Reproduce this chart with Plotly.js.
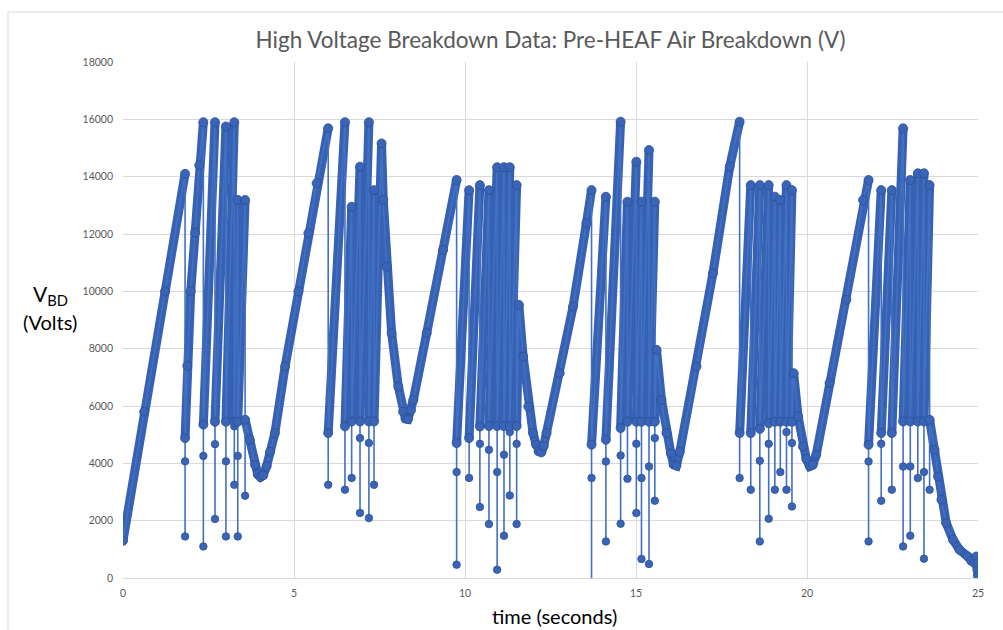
<!DOCTYPE html>
<html>
<head>
<meta charset="utf-8">
<script src="https://cdn.plot.ly/plotly-3.0.1.min.js"></script>
<style>
html,body{margin:0;padding:0;background:#ffffff;}
#chart{width:1003px;height:630px;}
</style>
</head>
<body>
<div id="chart"></div>
<script>
// Key samples (time in s, breakdown voltage in V).
// dipFlag = 1 marks the short-lived breakdown dip samples (thin vertical drops).
const timeS = [
  0, 0.62, 1.23, 1.815,
  1.815, 1.815, 1.815, 1.88, 1.98, 2.11, 2.23, 2.35,
  2.35, 2.35, 2.35, 2.69,
  2.69, 2.69, 2.69, 3.01,
  3.01, 3.01, 3.01, 3.255,
  3.255, 3.255, 3.255, 3.355,
  3.355, 3.355, 3.355, 3.57,
  3.57, 3.57, 3.71, 3.86, 3.94, 4.02, 4.1, 4.2, 4.3, 4.44, 4.74, 5.13, 5.42, 5.66, 6.0,
  6.0, 6.0, 6.49,
  6.49, 6.49, 6.686,
  6.686, 6.686, 6.93,
  6.93, 6.93, 6.93, 7.19,
  7.19, 7.19, 7.19, 7.34,
  7.34, 7.34, 7.56,
  7.61, 7.71, 7.855, 8.05, 8.19, 8.26, 8.33, 8.42, 8.49, 8.88, 9.36, 9.755,
  9.755, 9.755, 9.755, 10.12,
  10.12, 10.12, 10.435,
  10.435, 10.435, 10.435, 10.70,
  10.70, 10.70, 10.70, 10.94,
  10.94, 10.94, 10.94, 11.14,
  11.14, 11.14, 11.14, 11.31,
  11.31, 11.31, 11.31, 11.51,
  11.51, 11.51, 11.51, 11.575,
  11.70, 11.85, 11.99, 12.08, 12.15, 12.23, 12.30, 12.385, 12.77, 13.16, 13.55, 13.70,
  13.70, 13.70, 13.70, 14.12,
  14.12, 14.12, 14.12, 14.55,
  14.55, 14.55, 14.55, 14.75,
  14.75, 14.75, 15.01,
  15.01, 15.01, 15.01, 15.16,
  15.16, 15.16, 15.16, 15.38,
  15.38, 15.38, 15.38, 15.55,
  15.55, 15.55, 15.55, 15.60,
  15.745, 15.89, 16.02, 16.10, 16.18, 16.28, 16.77, 17.25, 17.74, 18.03,
  18.03, 18.03, 18.355,
  18.355, 18.355, 18.62,
  18.62, 18.62, 18.62, 18.88,
  18.88, 18.88, 18.88, 19.06,
  19.06, 19.06, 19.22,
  19.22, 19.22, 19.40,
  19.40, 19.40, 19.40, 19.56,
  19.56, 19.56, 19.56, 19.61,
  19.74, 19.88, 19.98, 20.08, 20.17, 20.27, 20.66, 21.15, 21.64, 21.80,
  21.80, 21.80, 21.80, 22.17,
  22.17, 22.17, 22.17, 22.48,
  22.48, 22.48, 22.81,
  22.81, 22.81, 22.81, 23.02,
  23.02, 23.02, 23.02, 23.24,
  23.24, 23.24, 23.42,
  23.42, 23.42, 23.42, 23.585,
  23.585, 23.585, 23.73, 23.83, 23.93, 24.07, 24.27, 24.46, 24.70, 24.80, 24.90, 24.95, 24.98, 25.0, 25.0
];
const voltsV = [
  1300, 5800, 10000, 14100,
  1450, 4070, 4880, 7400, 10000, 12050, 14400, 15900,
  1100, 4260, 5350, 15900,
  2060, 4670, 5450, 15750,
  1450, 4070, 5450, 15900,
  3250, 5290, 5450, 13190,
  1450, 4260, 5450, 13190,
  2870, 5520, 4820, 3950, 3620, 3520, 3580, 3900, 4400, 5055, 7380, 10000, 12030, 13770, 15690,
  3250, 5055, 15900,
  3080, 5290, 12950,
  3490, 5460, 14350,
  2270, 4880, 5460, 15900,
  2090, 4710, 5460, 13530,
  3250, 5460, 15160,
  13190, 10860, 8540, 6680, 5800, 5560, 5540, 5850, 6215, 8540, 11445, 13885,
  464, 3695, 4706, 13530,
  3490, 4880, 13706,
  2475, 4680, 5285, 13530,
  1880, 4470, 5300, 14330,
  290, 3695, 5300, 14330,
  1475, 4300, 5300, 14330,
  2880, 5090, 5300, 13706,
  1880, 4680, 5300, 9530,
  7725, 5980, 5055, 4650, 4420, 4380, 4600, 5055, 7146, 9468, 12375, 13532,
  -800, 3490, 4650, 13300,
  1276, 4065, 4820, 15917,
  1893, 4274, 5229, 13128,
  3462, 5450, 14523,
  2266, 4682, 5450, 13128,
  662, 3486, 5450, 14930,
  488, 3890, 5450, 13128,
  2695, 4880, 5450, 7960,
  6215, 5055, 4350, 3960, 3920, 4400, 7376, 10632, 14348, 15917,
  3486, 5055, 13706,
  3078, 5055, 13706,
  1276, 4089, 5200, 13706,
  2067, 4682, 5400, 13303,
  3078, 5450, 13188,
  3695, 5450, 13706,
  3078, 5090, 5450, 13532,
  2496, 4706, 5450, 7146,
  5633, 4588, 4150, 3900, 3950, 4300, 6798, 9703, 13188, 13885,
  1276, 4065, 4647, 13532,
  2695, 4682, 5055, 13532,
  3078, 5055, 15687,
  1102, 3890, 5459, 13885,
  1475, 3890, 5459, 14118,
  3486, 5459, 14118,
  673, 3695, 5459, 13706,
  3078, 5520, 4472, 3540, 2730, 1917, 1335, 987, 753, 600, 523, 750, 300, 520, 80
];
const dipFlag = [
  0, 0, 0, 0,
  1, 1, 0, 0, 0, 0, 0, 0,
  1, 1, 0, 0,
  1, 1, 0, 0,
  1, 1, 0, 0,
  1, 1, 0, 0,
  1, 1, 0, 0,
  1, 0, 0, 0, 0, 0, 0, 0, 0, 0, 0, 0, 0, 0, 0,
  1, 0, 0,
  1, 0, 0,
  1, 0, 0,
  1, 1, 0, 0,
  1, 1, 0, 0,
  1, 0, 0,
  0, 0, 0, 0, 0, 0, 0, 0, 0, 0, 0, 0,
  1, 1, 0, 0,
  1, 0, 0,
  1, 1, 0, 0,
  1, 1, 0, 0,
  1, 1, 0, 0,
  1, 1, 0, 0,
  1, 1, 0, 0,
  1, 1, 0, 0,
  0, 0, 0, 0, 0, 0, 0, 0, 0, 0, 0, 0,
  1, 1, 0, 0,
  1, 1, 0, 0,
  1, 1, 0, 0,
  1, 0, 0,
  1, 1, 0, 0,
  1, 1, 0, 0,
  1, 1, 0, 0,
  1, 1, 0, 0,
  0, 0, 0, 0, 0, 0, 0, 0, 0, 0,
  1, 0, 0,
  1, 0, 0,
  1, 1, 0, 0,
  1, 1, 0, 0,
  1, 0, 0,
  1, 0, 0,
  1, 1, 0, 0,
  1, 1, 0, 0,
  0, 0, 0, 0, 0, 0, 0, 0, 0, 0,
  1, 1, 0, 0,
  1, 1, 0, 0,
  1, 0, 0,
  1, 1, 0, 0,
  1, 1, 0, 0,
  1, 0, 0,
  1, 1, 0, 0,
  1, 0, 0, 0, 0, 0, 0, 0, 0, 0, 0, 0, 0, 0, 0
];
const xTicks = [0, 5, 10, 15, 20, 25];
const yTicks = [0, 2000, 4000, 6000, 8000, 10000, 12000, 14000, 16000, 18000];

if (timeS.length !== voltsV.length || timeS.length !== dipFlag.length) {
  console.error('length mismatch', timeS.length, voltsV.length, dipFlag.length);
}

// dense sample band (sampled ramps): same data with the dip samples left out
const bandX = timeS.map((t, i) => dipFlag[i] ? null : t);
const bandY = voltsV.map((v, i) => dipFlag[i] ? null : v);

const FONT = 'Lato, "Open Sans", sans-serif';
const GRID = '#D9D9D9';

const traces = [
  {
    x: bandX, y: bandY, type: 'scatter', mode: 'lines',
    connectgaps: false, hoverinfo: 'skip', showlegend: false, opacity: 1,
    line: {color: '#3761B3', width: 9}
  },
  {
    x: timeS, y: voltsV, type: 'scatter', mode: 'lines+markers',
    name: 'Air Breakdown', showlegend: false, opacity: 1,
    line: {color: '#4270C2', width: 1.6},
    marker: {
      color: '#3A64B8', opacity: 1,
      size: dipFlag.map(f => f ? 7.5 : 9),
      line: {color: '#2B4F90', width: 0.8}
    }
  }
];

const layout = {
  width: 1003, height: 630,
  margin: {l: 123, r: 25, t: 62, b: 52},
  paper_bgcolor: '#ffffff', plot_bgcolor: '#ffffff',
  font: {family: FONT, color: '#595959'},
  showlegend: false,
  title: {
    text: 'High Voltage Breakdown Data: Pre-HEAF Air Breakdown (V)',
    font: {family: FONT, size: 22.5, color: '#595959'},
    xref: 'paper', x: 0.5, xanchor: 'center',
    yref: 'container', y: 1 - 40 / 630, yanchor: 'middle'
  },
  xaxis: {
    range: [0, 25], tickvals: xTicks, ticktext: xTicks.map(String),
    showgrid: true, gridcolor: GRID, gridwidth: 1,
    zeroline: false, showline: true, linecolor: GRID, linewidth: 1,
    ticks: '', tickfont: {family: FONT, size: 10.5, color: '#595959'},
    ticklabelstandoff: 5, fixedrange: true
  },
  yaxis: {
    range: [0, 18000], tickvals: yTicks, ticktext: yTicks.map(String),
    showgrid: true, gridcolor: GRID, gridwidth: 1,
    zeroline: false, showline: false,
    ticks: '', tickfont: {family: FONT, size: 10.5, color: '#595959'},
    ticklabelstandoff: 9, fixedrange: true
  },
  annotations: [
    {
      text: 'V<sub>BD</sub>', xref: 'paper', yref: 'paper',
      x: (50 - 123) / 855, y: (578 - 295) / 516, xanchor: 'center', yanchor: 'middle',
      showarrow: false, font: {family: FONT, size: 21, color: '#000000'}
    },
    {
      text: '(Volts)', xref: 'paper', yref: 'paper',
      x: (50 - 123) / 855, y: (578 - 322) / 516, xanchor: 'center', yanchor: 'middle',
      showarrow: false, font: {family: FONT, size: 20, color: '#000000'}
    },
    {
      text: 'time (seconds)', xref: 'paper', yref: 'paper',
      x: (554 - 123) / 855, y: (578 - 616) / 516, xanchor: 'center', yanchor: 'middle',
      showarrow: false, font: {family: FONT, size: 20, color: '#000000'}
    }
  ],
  shapes: [
    {
      type: 'rect', xref: 'paper', yref: 'paper',
      x0: (8 - 123) / 855, x1: (1040 - 123) / 855,
      y0: (578 - 700) / 516, y1: (578 - 12) / 516,
      line: {color: '#D9D9D9', width: 1}, fillcolor: 'rgba(0,0,0,0)', layer: 'below'
    }
  ]
};

Plotly.newPlot('chart', traces, layout, {displayModeBar: false, staticPlot: true});
</script>
</body>
</html>
